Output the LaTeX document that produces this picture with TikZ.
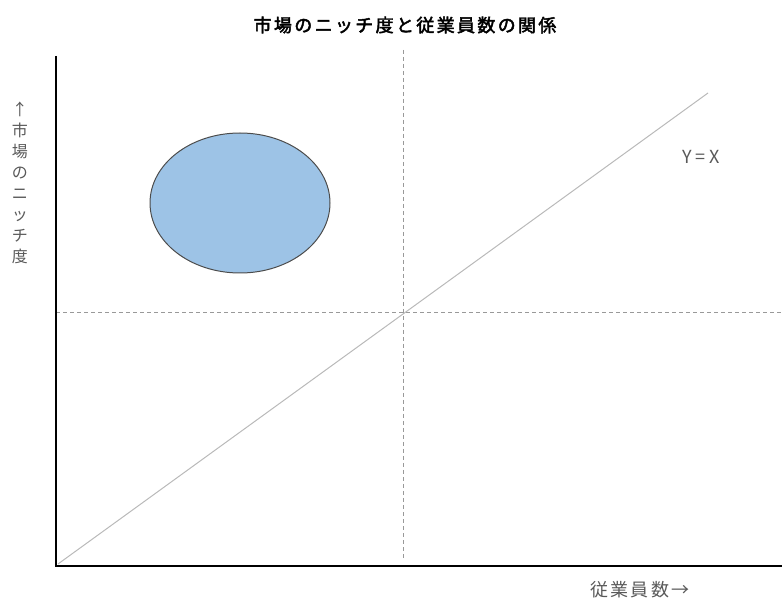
\documentclass[tikz,border=0pt]{standalone}
\usepackage{fontspec}
\usetikzlibrary{shapes.geometric}
\newfontfamily\cjk{Noto Sans CJK JP}[LetterSpace=12]
\newfontfamily\cjkplain{Noto Sans CJK JP}
\newfontfamily\cjkb{Noto Sans CJK JP}[FakeBold=2.5,LetterSpace=13]
\definecolor{ellfill}{RGB}{157,195,230}
\newcommand\vstack[1]{\vbox{\lineskiplimit=-40pt\lineskip=0pt\baselineskip=21pt\halign{\hfil##\hfil\cr#1\crcr}}}
\begin{document}
\begin{tikzpicture}[x=1pt,y=-1pt,
  axis/.style={line width=2.6pt,black},
  guide/.style={gray!80,line width=0.8pt,dash pattern=on 4pt off 3pt},
  diag/.style={gray!55,line width=1pt},
  lbl/.style={text=black!65,inner sep=0pt}]
\useasboundingbox (0,0) rectangle (782,601);
\coordinate (O) at (56,566);
\coordinate (Ytop) at (56,56);
\coordinate (Xend) at (782,566);
\coordinate (D1) at (58,564);
\coordinate (D2) at (708,93);
\coordinate (V1) at (403,50);
\coordinate (V2) at (403,560);
\coordinate (H1) at (56,312);
\coordinate (H2) at (782,312);
\draw[guide] (V1) -- (V2);
\draw[guide] (H1) -- (H2);
\draw[diag] (D1) -- (D2);
\draw[axis] (Ytop) -- (O) -- (Xend);
\node[ellipse,draw=black!70,line width=1pt,fill=ellfill,inner sep=0pt,minimum width=180pt,minimum height=140pt] (ell) at (240,203) {};
\node[font=\cjkb\fontsize{18}{20}\selectfont,inner sep=0pt] (title) at (405,25) {市場のニッチ度と従業員数の関係};
\node[lbl,font=\cjkplain\fontsize{18}{20}\selectfont] (yx) at (701,157) {Y = X};
\node[lbl,font=\cjkplain\fontsize{16}{21}\selectfont] (ylab) at (20,183) {\vstack{↑\cr 市\cr 場\cr の\cr ニ\cr ッ\cr チ\cr 度}};
\node[lbl,font=\cjk\fontsize{18}{20}\selectfont] (xlab) at (640,590) {従業員数→};
\end{tikzpicture}
\end{document}
